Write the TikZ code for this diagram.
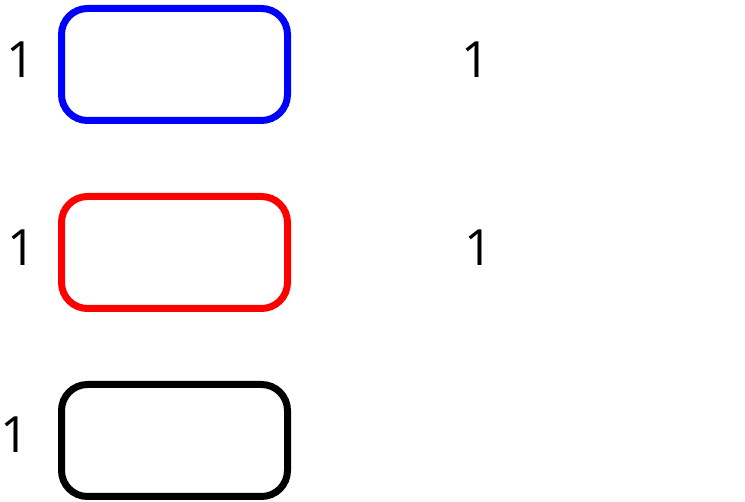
\documentclass[tikz,border=0pt]{standalone}
\usepackage{fontspec}
\setmainfont{Open Sans}
\begin{document}
\begin{tikzpicture}[x=1pt,y=-1pt,
  box/.style={draw,line width=7pt,rounded corners=26pt,minimum width=226pt,minimum height=112pt,inner sep=0pt},
  num/.style={inner sep=0pt,font=\fontsize{50}{60}\selectfont}]
\useasboundingbox (0,0) rectangle (745,502);
\begin{scope}
\node[box,draw=blue] (B1) at (174.5,64.5) {};
\node[box,draw=red] (B2) at (174.5,252.5) {};
\node[box,draw=black] (B3) at (174.5,440.5) {};
\node[num] (L1) at (20.5,60) {1};
\node[num] (L2) at (21.5,248) {1};
\node[num] (L3) at (15,435) {1};
\node[num] (R1) at (475.5,60) {1};
\node[num] (R2) at (478.5,248) {1};
\end{scope}
\end{tikzpicture}
\end{document}
